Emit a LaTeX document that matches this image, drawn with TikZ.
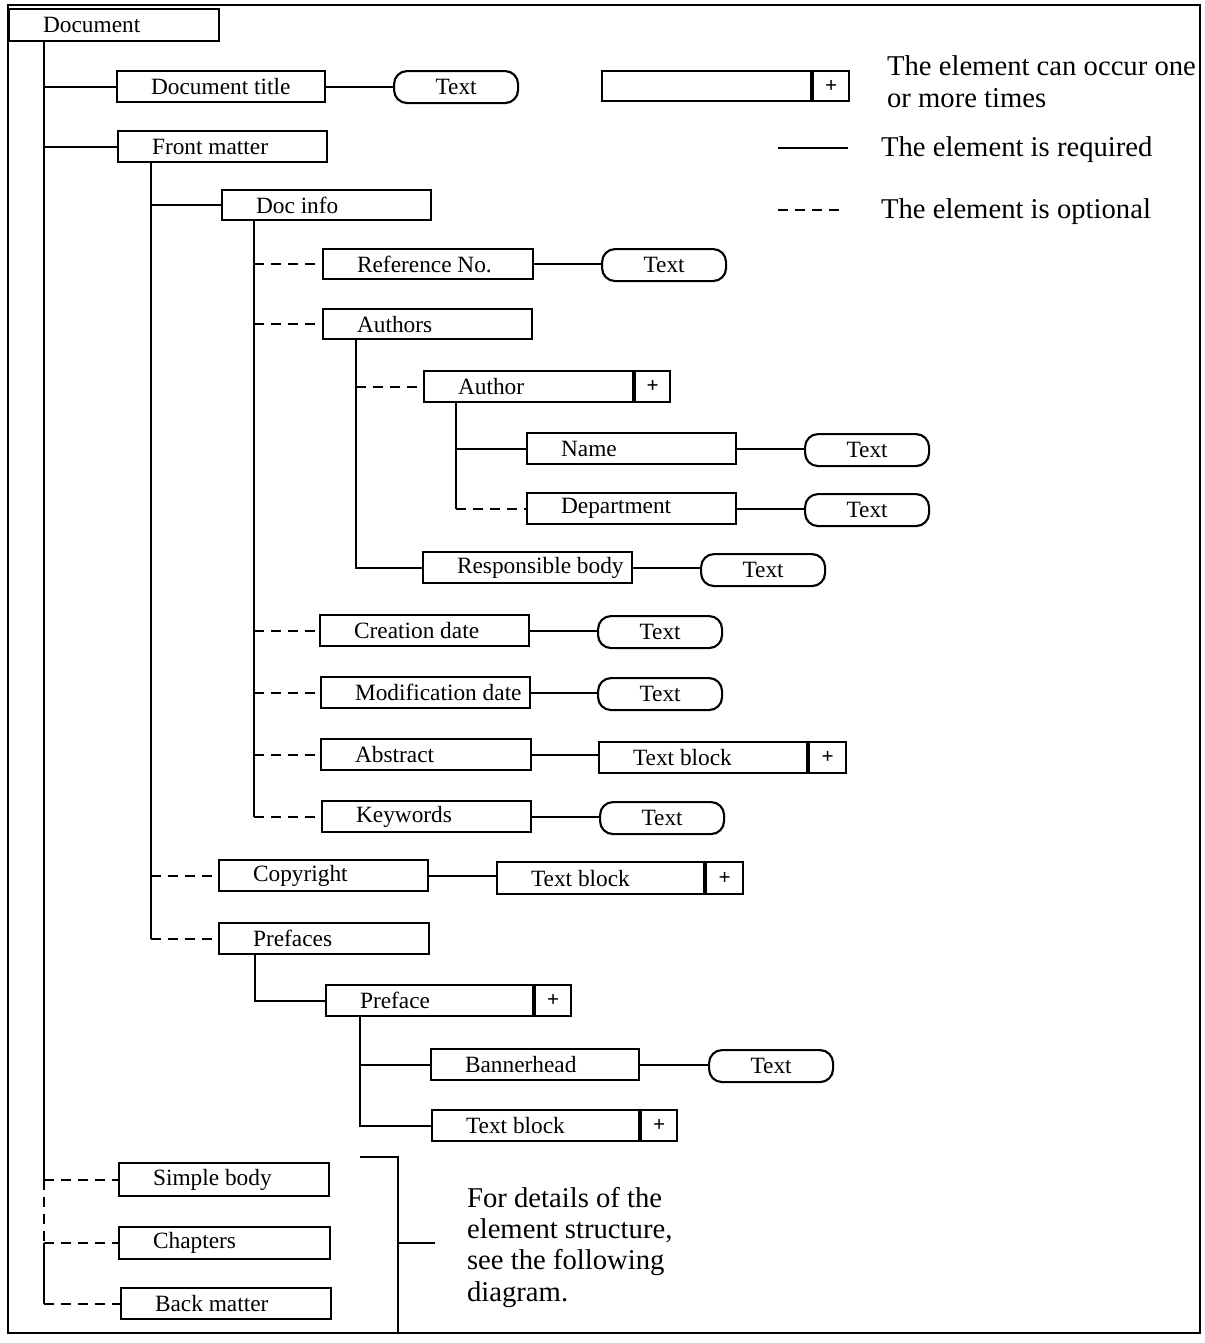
\documentclass[tikz,border=0pt]{standalone}
\usepackage{fontspec}
\setmainfont{Liberation Serif}
\newdimen\px \px=0.75pt
\newcommand{\myel}[6]{\node[elem, minimum width=#4\px, minimum height=#5\px] (#1) at (#2,#3) {\makebox[#4\px][l]{\hspace{34\px}#6}};}
\newcommand{\mypill}[4]{\node[pill] (#1) at (#2,#3) {#4};}
\newcommand{\myplus}[3]{\node[plus, minimum width=#2\px, minimum height=#3\px] (#1P) at (#1.north east) {+};}
\begin{document}
\begin{tikzpicture}[x=0.75pt,y=-0.75pt,
  line width=1.6pt,
  elem/.style={draw, rectangle, line width=1.6pt, inner sep=0pt, anchor=north west, font=\fontsize{17.5}{20}\selectfont},
  pill/.style={draw, line width=1.6pt, rounded corners=13\px, inner sep=0pt, anchor=north west, minimum width=124\px, minimum height=32\px, font=\fontsize{17.5}{20}\selectfont},
  plus/.style={draw, rectangle, line width=1.6pt, inner sep=0pt, anchor=north west, font=\fontsize{16}{18}\selectfont\bfseries},
  req/.style={line width=1.6pt},
  opt/.style={line width=1.6pt, dash pattern=on 10\px off 7\px},
  big/.style={font=\fontsize{21.5}{23.5}\selectfont, inner sep=0pt, align=left}
]
\useasboundingbox (0,0) rectangle (1205,1343);
\fill[white] (0,0) rectangle (1205,1343);
\draw[line width=2pt] (8,5) rectangle (1200,1333);

% ---- elements
\myel{doc}{8}{8}{210}{32}{Document}
\myel{title}{116}{70}{208}{31}{Document title}
\mypill{titleT}{393}{70}{Text}
\myel{front}{117}{130}{209}{31}{Front matter}
\myel{docinfo}{221}{189}{209}{30}{Doc info}
\myel{refno}{322}{248}{210}{30}{Reference No.}
\mypill{refnoT}{601}{248}{Text}
\myel{authors}{322}{308}{209}{30}{Authors}
\myel{author}{423}{370}{209}{31}{Author}
\myplus{author}{35}{31}
\myel{name}{526}{432}{209}{31}{Name}
\mypill{nameT}{804}{433}{Text}
\myel{dept}{526}{492}{209}{31}{Department}
\mypill{deptT}{804}{493}{Text}
\myel{resp}{422}{551}{209}{31}{Responsible body}
\mypill{respT}{700}{553}{Text}
\myel{cdate}{319}{614}{209}{31}{Creation date}
\mypill{cdateT}{597}{615}{Text}
\myel{mdate}{320}{676}{209}{31}{Modification date}
\mypill{mdateT}{597}{677}{Text}
\myel{abstract}{320}{738}{210}{31}{Abstract}
\myel{abstractB}{598}{741}{208}{31}{Text block}
\myplus{abstractB}{37}{31}
\myel{keywords}{321}{800}{209}{31}{Keywords}
\mypill{keywordsT}{599}{801}{Text}
\myel{copyright}{218}{859}{209}{31}{Copyright}
\myel{copyB}{496}{861}{207}{32}{Text block}
\myplus{copyB}{37}{32}
\myel{prefaces}{218}{922}{210}{31}{Prefaces}
\myel{preface}{325}{984}{207}{31}{Preface}
\myplus{preface}{36}{31}
\myel{banner}{430}{1048}{208}{31}{Bannerhead}
\mypill{bannerT}{708}{1049}{Text}
\myel{ptb}{431}{1109}{207}{31}{Text block}
\myplus{ptb}{36}{31}
\myel{simple}{118}{1162}{210}{33}{Simple body}
\myel{chapters}{118}{1226}{211}{32}{Chapters}
\myel{back}{120}{1287}{210}{31}{Back matter}

% ---- trunks
\coordinate (docT) at ([xshift=36\px]doc.south west);
\draw[req] (docT) |- (title.west);
\draw[req] (docT) |- (front.west);
\draw[req] (docT) -- (docT |- simple.west);
\draw[opt] (docT |- simple.west) -- (docT |- chapters.west);
\draw[req] (docT |- chapters.west) -- (docT |- back.west);
\draw[opt] (docT |- simple.west) -- (simple.west);
\draw[opt] (docT |- chapters.west) -- (chapters.west);
\draw[opt] (docT |- back.west) -- (back.west);

\coordinate (fmT) at ([xshift=34\px]front.south west);
\draw[req] (fmT) -- (fmT |- prefaces.west);
\draw[req] (fmT |- docinfo.west) -- (docinfo.west);
\draw[opt] (fmT |- copyright.west) -- (copyright.west);
\draw[opt] (fmT |- prefaces.west) -- (prefaces.west);

\coordinate (diT) at ([xshift=33\px]docinfo.south west);
\draw[req] (diT) -- (diT |- keywords.west);
\foreach \n in {refno,authors,cdate,mdate,abstract,keywords}
  \draw[opt] (diT |- \n.west) -- (\n.west);

\coordinate (auT) at ([xshift=34\px]authors.south west);
\draw[req] (auT) |- (resp.west);
\draw[opt] (auT |- author.west) -- (author.west);

\coordinate (aT) at ([xshift=33\px]author.south west);
\draw[req] (aT) |- (name.west);
\draw[req] (aT) -- (aT |- dept.west);
\draw[opt] (aT |- dept.west) -- (dept.west);

\coordinate (prT) at ([xshift=37\px]prefaces.south west);
\draw[req] (prT) |- (preface.west);

\coordinate (pT) at ([xshift=35\px]preface.south west);
\draw[req] (pT) |- (banner.west);
\draw[req] (pT) |- (ptb.west);

% ---- values
\foreach \a/\b in {title/titleT,refno/refnoT,name/nameT,dept/deptT,resp/respT,cdate/cdateT,mdate/mdateT,abstract/abstractB,keywords/keywordsT,copyright/copyB,banner/bannerT}
  \draw[req] (\a.east) -- (\a.east -| \b.west);

% ---- legend
\node[elem, minimum width=209\px, minimum height=30\px] (legbox) at (601,70) {};
\myplus{legbox}{36}{30}
\node[big, anchor=north west] (legPlus) at (886,55) {The element can occur one\\or more times};
\coordinate (legReqA) at (778,148);
\coordinate (legReqB) at (848,148);
\draw[req] (legReqA) -- (legReqB);
\node[big, anchor=base west] (legReq) at (880,156) {The element is required};
\coordinate (legOptA) at (778,210);
\coordinate (legOptB) at (842,210);
\draw[opt] (legOptA) -- (legOptB);
\node[big, anchor=base west] (legOpt) at (880,218) {The element is optional};

% ---- bracket and note
\coordinate (brTop) at (360,1157);
\coordinate (brCorner) at (398,1157);
\coordinate (brBot) at (398,1333);
\coordinate (brMid) at (398,1243);
\coordinate (brTip) at (435,1243);
\draw[req] (brTop) -- (brCorner) -- (brBot);
\draw[req] (brMid) -- (brTip);
\node[big, anchor=north west] (note) at (466,1186) {For details of the\\element structure,\\see the following\\diagram.};
\end{tikzpicture}
\end{document}
